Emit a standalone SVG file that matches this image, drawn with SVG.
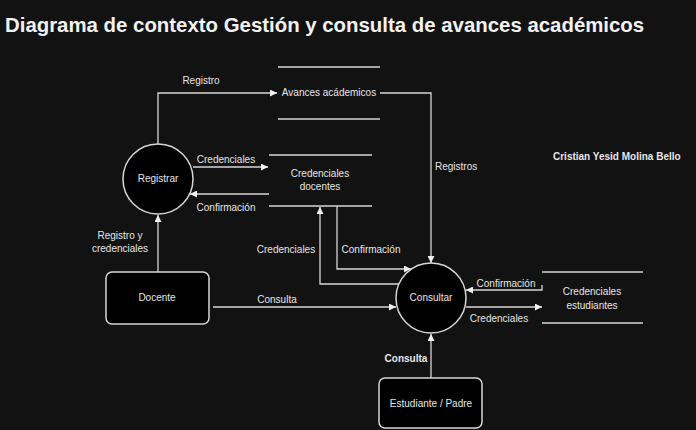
<svg xmlns="http://www.w3.org/2000/svg" width="696" height="430" viewBox="0 0 696 430">
<defs>
<style>
text{font-family:"Liberation Sans",Arial,sans-serif;fill:#e6e6e6;font-size:10px}
.t{font-size:20.4px;font-weight:bold;fill:#f2f2f2}
.b{font-weight:bold}
.m{text-anchor:middle}
.node{fill:#000;stroke:#d6d6d6;stroke-width:1.5}
.ln{fill:none;stroke:#d6d6d6;stroke-width:1.3}
.st{stroke:#d6d6d6;stroke-width:1.3}
</style>
<marker id="ah" viewBox="0 0 10 10" refX="10" refY="5" markerWidth="7" markerHeight="7" markerUnits="userSpaceOnUse" orient="auto">
<path d="M0,0 L10,5 L0,10 Z" fill="#f0f0f0"/>
</marker>
</defs>
<rect width="696" height="430" fill="#121212"/>
<text class="t" x="5" y="32">Diagrama de contexto Gestión y consulta de avances académicos</text>
<text class="b" x="553" y="160">Cristian Yesid Molina Bello</text>

<g id="connectors">
<path class="ln" d="M158,144 V93 H277" marker-end="url(#ah)"/>
<path class="ln" d="M380,93 H431 V263" marker-end="url(#ah)"/>
<path class="ln" d="M193,167 H268" marker-end="url(#ah)"/>
<path class="ln" d="M269,194 H190" marker-end="url(#ah)"/>
<path class="ln" d="M399,284 H320 V207" marker-end="url(#ah)"/>
<path class="ln" d="M337,206 V269 H411" marker-end="url(#ah)"/>
<path class="ln" d="M542,285 V290 H466" marker-end="url(#ah)"/>
<path class="ln" d="M466,307 H542" marker-end="url(#ah)"/>
<path class="ln" d="M158,272 V215" marker-end="url(#ah)"/>
<path class="ln" d="M213,307 H396" marker-end="url(#ah)"/>
<path class="ln" d="M431,378 V334" marker-end="url(#ah)"/>
<text class="m" x="201" y="84">Registro</text>
<text x="435" y="170">Registros</text>
<text class="m" x="226" y="163">Credenciales</text>
<text class="m" x="226" y="211">Confirmación</text>
<text class="m" x="286" y="253">Credenciales</text>
<text class="m" x="371" y="253">Confirmación</text>
<text class="m" x="506" y="287">Confirmación</text>
<text class="m" x="499" y="322">Credenciales</text>
<text class="m" x="120" y="239">Registro y</text>
<text class="m" x="120" y="252">credenciales</text>
<text class="m" x="277" y="303">Consulta</text>
<text class="m b" x="406" y="362">Consulta</text>
</g>

<g id="avances">
<line class="st" x1="278" y1="67" x2="380" y2="67"/>
<line class="st" x1="278" y1="119" x2="380" y2="119"/>
<text class="m" x="329" y="96">Avances acádemicos</text>
</g>
<g id="cred-docentes">
<line class="st" x1="269" y1="155" x2="372" y2="155"/>
<line class="st" x1="269" y1="206" x2="372" y2="206"/>
<text class="m" x="320" y="177">Credenciales</text>
<text class="m" x="320" y="190">docentes</text>
</g>
<g id="cred-estudiantes">
<line class="st" x1="542" y1="272" x2="643" y2="272"/>
<line class="st" x1="542" y1="323" x2="643" y2="323"/>
<text class="m" x="592" y="295">Credenciales</text>
<text class="m" x="592" y="309">estudiantes</text>
</g>
<g id="registrar">
<circle class="node" cx="158" cy="179" r="35"/>
<text class="m" x="158" y="182">Registrar</text>
</g>
<g id="consultar">
<circle class="node" cx="431" cy="298" r="35"/>
<text class="m" x="431" y="301">Consultar</text>
</g>
<g id="docente">
<rect class="node" x="106" y="272" width="103" height="52" rx="6"/>
<text class="m" x="157" y="301">Docente</text>
</g>
<g id="estudiante">
<rect class="node" x="379" y="378" width="103" height="50" rx="6"/>
<text class="m" x="431" y="407">Estudiante / Padre</text>
</g>
</svg>
